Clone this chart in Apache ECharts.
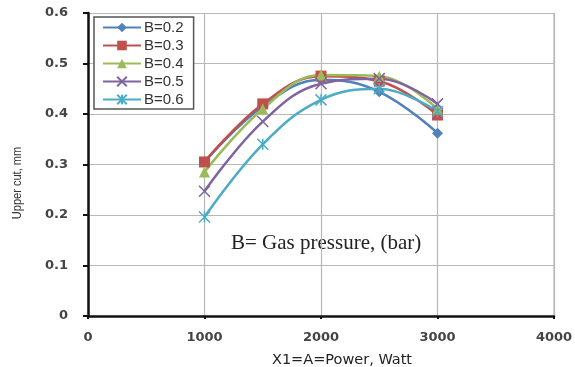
<!DOCTYPE html>
<html>
<head>
<meta charset="utf-8">
<script src="https://cdn.jsdelivr.net/npm/echarts@6/dist/echarts.min.js"></script>
<style>
  html, body { margin: 0; padding: 0; background: #fff; }
  #chart { width: 575px; height: 367px; }
</style>
</head>
<body>
<div id="chart"></div>
<script>
// power levels, Watt
const power = [1000, 1500, 2000, 2500, 3000];

// upper cut (mm) for each gas pressure B
const cutB02 = [0.305, 0.415, 0.468, 0.444, 0.362];
const cutB03 = [0.305, 0.420, 0.475, 0.465, 0.398];
const cutB04 = [0.285, 0.410, 0.477, 0.475, 0.410];
const cutB05 = [0.247, 0.385, 0.460, 0.470, 0.420];
const cutB06 = [0.196, 0.340, 0.428, 0.450, 0.405];

const seriesNames = ["B=0.2", "B=0.3", "B=0.4", "B=0.5", "B=0.6"];
const xTicks = [0, 1000, 2000, 3000, 4000];
const yTicks = [0, 0.1, 0.2, 0.3, 0.4, 0.5, 0.6];

const colors = ["#4F81BD", "#C0504D", "#9BBB59", "#8064A2", "#4BACC6"];

const crossPath = "path://M0,0L10,10M10,0L0,10";
const starPath = "path://M0,0L10,10M10,0L0,10M5,0L5,10";

function pairs(vals) {
  return power.map((p, i) => [p, vals[i]]);
}

function makeSeries(name, vals, color, symbol, size, stroke) {
  return {
    name: name,
    type: "line",
    smooth: 0.4,
    data: pairs(vals),
    symbol: symbol,
    symbolSize: size,
    lineStyle: { color: color, width: 2.5 },
    itemStyle: stroke
      ? { color: "rgba(0,0,0,0)", borderColor: color, borderWidth: 1.5 }
      : { color: color, borderColor: color, borderWidth: 0 }
  };
}

const chart = echarts.init(document.getElementById("chart"));

const option = {
  animation: false,
  grid: { left: 88, right: 21, top: 13, bottom: 51, outerBoundsMode: "none" },

  legend: {
    orient: "vertical",
    left: 94,
    top: 17,
    padding: [3, 10, 2, 8],
    itemGap: 3,
    itemWidth: 38,
    itemHeight: 12,
    borderColor: "#555",
    borderWidth: 1.5,
    backgroundColor: "#fff",
    data: seriesNames,
    textStyle: { fontFamily: "Liberation Sans", fontSize: 15, color: "#333", padding: [0, 0, 0, -2] }
  },

  xAxis: {
    type: "value",
    min: xTicks[0],
    max: xTicks[xTicks.length - 1],
    interval: 1000,
    name: "X1=A=Power, Watt",
    nameLocation: "middle",
    nameGap: 37,
    nameTextStyle: { fontFamily: "DejaVu Sans", fontSize: 14.5, color: "#222", padding: [0, 0, 0, 42] },
    axisLine: { lineStyle: { color: "#111", width: 2.5 } },
    axisTick: { show: true, length: 3, lineStyle: { color: "#111", width: 2 } },
    axisLabel: {
      fontFamily: "DejaVu Sans", fontSize: 13, fontWeight: "bold", color: "#444", margin: 15,
      formatter: (v) => String(v)
    },
    splitLine: { show: true, lineStyle: { color: "#b8b8b8", width: 1.2 } }
  },

  yAxis: {
    type: "value",
    min: yTicks[0],
    max: yTicks[yTicks.length - 1],
    interval: 0.1,
    axisLine: { show: true, lineStyle: { color: "#111", width: 2.5 } },
    axisTick: { show: true, length: 5, lineStyle: { color: "#111", width: 2 } },
    axisLabel: { fontFamily: "DejaVu Sans", fontSize: 13, fontWeight: "bold", color: "#444", margin: 20 },
    splitLine: { show: true, lineStyle: { color: "#b8b8b8", width: 1.2 } }
  },

  graphic: [
    {
      type: "rect",
      shape: { x: 554, y: 13, width: 0, height: 303 },
      style: { stroke: "#b8b8b8", lineWidth: 1.2, fill: null }
    },
    {
      type: "text",
      x: 17,
      y: 183,
      rotation: Math.PI / 2,
      scaleX: 0.85,
      style: {
        text: "Upper cut, mm",
        font: "13px 'Liberation Sans'",
        fill: "#333",
        align: "center",
        verticalAlign: "middle"
      }
    },
    {
      type: "text",
      left: 231,
      top: 233,
      style: {
        text: "B= Gas pressure, (bar)",
        font: "21px 'Liberation Serif'",
        fill: "#222"
      }
    }
  ],

  series: [
    makeSeries(seriesNames[0], cutB02, colors[0], "diamond", 11, false),
    makeSeries(seriesNames[1], cutB03, colors[1], "rect", 11, false),
    makeSeries(seriesNames[2], cutB04, colors[2], "triangle", 11, false),
    makeSeries(seriesNames[3], cutB05, colors[3], crossPath, 11, true),
    makeSeries(seriesNames[4], cutB06, colors[4], starPath, 11, true)
  ]
};

chart.setOption(option);
</script>
</body>
</html>
